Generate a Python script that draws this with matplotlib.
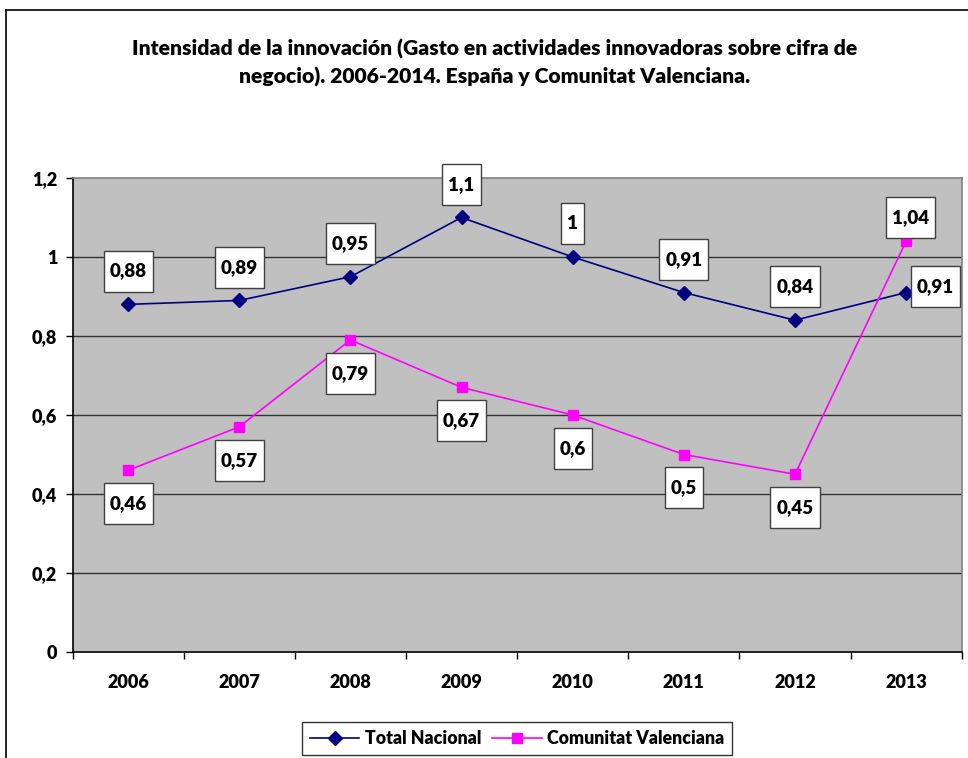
import matplotlib.pyplot as plt
from matplotlib.path import Path
from matplotlib.lines import Line2D

# datos
years = ['2006', '2007', '2008', '2009', '2010', '2011', '2012', '2013']
total_nacional = [0.88, 0.89, 0.95, 1.1, 1.0, 0.91, 0.84, 0.91]
comunitat_val = [0.46, 0.57, 0.79, 0.67, 0.6, 0.5, 0.45, 1.04]
y_ticks = [0, 0.2, 0.4, 0.6, 0.8, 1.0, 1.2]

TITLE = ('Intensidad de la innovación (Gasto en actividades innovadoras sobre cifra de\n'
         'negocio). 2006-2014. España y Comunitat Valenciana.')

FONT = ['Lato', 'DejaVu Sans']
NAVY = '#000080'
MAGENTA = '#FF00FF'
PLOT_BG = '#C0C0C0'
W = 'heavy'

plt.rcParams['font.family'] = FONT


def excel_box(x0, y0, width, height, mutation_size):
    # caja de etiqueta: poco margen lateral, altura fija
    padx = 6
    h = 41
    cy = y0 + height / 2
    x1 = x0 - padx
    x2 = x0 + width + padx
    y1 = cy - h / 2
    y2 = cy + h / 2
    return Path([(x1, y1), (x2, y1), (x2, y2), (x1, y2), (x1, y1)],
                [Path.MOVETO, Path.LINETO, Path.LINETO, Path.LINETO, Path.CLOSEPOLY])


def fmt(v):
    s = f'{v:.2f}'.rstrip('0').rstrip('.')
    return s.replace('.', ',')


fig = plt.figure(figsize=(9.68, 7.58), dpi=100)
ax = fig.add_axes([0.0749, 0.1398, 0.9186, 0.6254])
ax.set_facecolor(PLOT_BG)

x = list(range(len(years)))
ax.plot(x, total_nacional, color=NAVY, lw=1.2, marker='D', markersize=7.5,
        label='Total Nacional', zorder=3)
ax.plot(x, comunitat_val, color=MAGENTA, lw=1.2, marker='s', markersize=7,
        label='Comunitat Valenciana', zorder=3)

ax.set_xlim(-0.5, len(years) - 0.5)
ax.set_ylim(0, 1.2)
ax.set_yticks(y_ticks)
ax.set_yticklabels([fmt(v) for v in y_ticks], fontsize=13, fontweight=W)
ax.set_xticks(x)
ax.set_xticklabels(years, fontsize=13, fontweight=W)
ax.set_xticks([i + 0.5 for i in x[:-1]] + [-0.5, len(years) - 0.5], minor=True)
ax.tick_params(axis='x', which='major', length=0, pad=16)
ax.tick_params(axis='x', which='minor', length=5, width=1, direction='out')
ax.tick_params(axis='y', length=5, width=1, direction='out', pad=6)

for yv in y_ticks[1:-1]:
    ax.axhline(yv, color='#333333', lw=1.0, zorder=1)

ax.spines['left'].set_color('black')
ax.spines['bottom'].set_color('black')
ax.spines['top'].set_color('#808080')
ax.spines['right'].set_color('#808080')
for s in ax.spines.values():
    s.set_linewidth(1.2)

box = dict(boxstyle=excel_box, facecolor='white', edgecolor='#404040', lw=1)

# etiquetas de datos (offset en puntos)
for i, v in enumerate(total_nacional):
    off = (0, 24)
    if i == len(years) - 1:
        off = (21, 4)
    ax.annotate(fmt(v), (i, v), xytext=off, textcoords='offset points',
                ha='center', va='center', fontsize=13.5, fontweight=W,
                bbox=box, zorder=5)

for i, v in enumerate(comunitat_val):
    off = (0, -24)
    if i == len(years) - 1:
        off = (3, 17)
    ax.annotate(fmt(v), (i, v), xytext=off, textcoords='offset points',
                ha='center', va='center', fontsize=13.5, fontweight=W,
                bbox=box, zorder=5)

fig.text(0.511, 0.917, TITLE, ha='center', va='center', fontsize=15.2,
         fontweight=W, linespacing=1.45)

leg = fig.legend(loc='center', bbox_to_anchor=(0.534, 0.026), ncol=2,
                 frameon=True, fancybox=False, edgecolor='black',
                 prop=dict(weight=W, size=12.8), handlelength=2.8,
                 columnspacing=0.6, handletextpad=0.3, borderpad=0.45)
leg.get_frame().set_linewidth(1)

# marco del gráfico
fig.add_artist(Line2D([0.006, 1.0], [0.987, 0.987], color='black', lw=1.2))
fig.add_artist(Line2D([0.006, 0.006], [0.0, 0.987], color='black', lw=1.2))

plt.savefig('out.png', dpi=100, facecolor='white')
plt.close()
